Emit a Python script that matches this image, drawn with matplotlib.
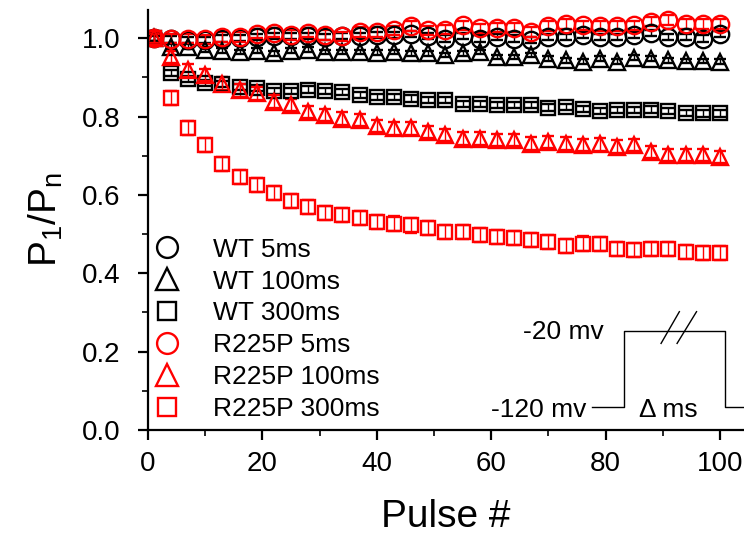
import numpy as np
import matplotlib
matplotlib.use('Agg')
import matplotlib.pyplot as plt
from matplotlib.lines import Line2D

plt.rcParams['font.family'] = ['Liberation Sans', 'DejaVu Sans']
plt.rcParams['mathtext.default'] = 'regular'

# pulse numbers (every 3rd pulse)
pulses = [1, 4, 7, 10, 13, 16, 19, 22, 25, 28, 31, 34, 37, 40, 43, 46, 49,
          52, 55, 58, 61, 64, 67, 70, 73, 76, 79, 82, 85, 88, 91, 94, 97, 100]

wt5 = [1.000, 0.997, 0.996, 0.996, 0.999, 1.001, 1.003, 1.006, 1.006, 1.006, 1.004, 1.006,
       1.006, 1.008, 1.008, 1.010, 1.006, 0.999, 1.005, 0.999, 1.003, 0.999, 0.995, 1.003,
       1.003, 1.008, 1.003, 1.003, 1.008, 1.013, 1.003, 1.003, 0.999, 1.011]
wt100 = [1.000, 0.978, 0.978, 0.971, 0.968, 0.965, 0.968, 0.961, 0.968, 0.971, 0.965, 0.965,
         0.965, 0.963, 0.965, 0.961, 0.961, 0.957, 0.961, 0.965, 0.952, 0.952, 0.957, 0.948,
         0.944, 0.940, 0.948, 0.940, 0.950, 0.948, 0.944, 0.942, 0.942, 0.940]
wt300 = [1.000, 0.912, 0.895, 0.886, 0.884, 0.876, 0.872, 0.866, 0.866, 0.869, 0.866, 0.863,
         0.855, 0.850, 0.850, 0.846, 0.842, 0.842, 0.833, 0.833, 0.829, 0.829, 0.829, 0.823,
         0.825, 0.820, 0.815, 0.816, 0.816, 0.818, 0.815, 0.810, 0.808, 0.808]
r5 = [1.000, 0.999, 0.999, 0.997, 1.003, 1.003, 1.012, 1.014, 1.008, 1.014, 1.008, 1.005,
      1.016, 1.016, 1.020, 1.031, 1.020, 1.022, 1.033, 1.025, 1.027, 1.027, 1.016, 1.031,
      1.036, 1.033, 1.031, 1.031, 1.033, 1.042, 1.046, 1.036, 1.036, 1.036]
r100 = [1.000, 0.952, 0.918, 0.906, 0.884, 0.867, 0.859, 0.838, 0.829, 0.812, 0.804, 0.795,
        0.791, 0.776, 0.770, 0.770, 0.761, 0.753, 0.744, 0.744, 0.740, 0.740, 0.731, 0.735,
        0.731, 0.727, 0.729, 0.723, 0.727, 0.710, 0.702, 0.702, 0.702, 0.697]
r300 = [1.000, 0.848, 0.770, 0.727, 0.680, 0.645, 0.625, 0.605, 0.585, 0.570, 0.555, 0.548,
        0.540, 0.532, 0.527, 0.522, 0.515, 0.506, 0.506, 0.497, 0.493, 0.489, 0.485, 0.480,
        0.469, 0.476, 0.474, 0.461, 0.459, 0.461, 0.461, 0.455, 0.452, 0.452]

# rough SEMs
err_wt5, err_wt100, err_wt300 = 0.008, 0.006, 0.008
err_r5, err_r100, err_r300 = 0.012, 0.016, 0.018

# label, data, err, colour, marker, plot size, legend size
series = [
    ("WT 5ms", wt5, err_wt5, 'black', 'o', 12.5, 15),
    ("WT 100ms", wt100, err_wt100, 'black', '^', 12, 16),
    ("WT 300ms", wt300, err_wt300, 'black', 's', 10.5, 12.5),
    ("R225P 5ms", r5, err_r5, 'red', 'o', 12.5, 15),
    ("R225P 100ms", r100, err_r100, 'red', '^', 12, 16),
    ("R225P 300ms", r300, err_r300, 'red', 's', 10.5, 12.5),
]

fig = plt.figure(figsize=(7.44, 5.39), dpi=100)
ax = fig.add_axes([148/744, 1 - 430/539, 596/744, 420/539])

handles = []
for label, vals, err, col, mk, ms, lms in series:
    ax.errorbar(pulses, vals, yerr=err, fmt=mk, ms=ms, mfc='none', mec=col, mew=1.7,
                ecolor=col, elinewidth=1.0, capsize=4.5, capthick=1.0)
    handles.append(Line2D([], [], ls='none', marker=mk, ms=lms, mfc='none', mec=col,
                          mew=1.7, label=label))

ax.set_xlim(0, 104.2)
ax.set_ylim(0, 1.072)
ax.set_xticks([0, 20, 40, 60, 80, 100])
ax.set_xticks(np.arange(10, 101, 20), minor=True)
ax.set_yticks([0.0, 0.2, 0.4, 0.6, 0.8, 1.0])
ax.set_yticklabels(['0.0', '0.2', '0.4', '0.6', '0.8', '1.0'])
ax.set_yticks(np.arange(0.1, 1.01, 0.2), minor=True)
for s in ['top', 'right']:
    ax.spines[s].set_visible(False)
for s in ['left', 'bottom']:
    ax.spines[s].set_linewidth(1.6)
ax.tick_params(which='major', direction='out', length=7, width=1.6, labelsize=20)
ax.tick_params(axis='x', which='major', pad=8)
ax.tick_params(axis='y', which='major', pad=13)
ax.tick_params(which='minor', direction='out', length=4, width=1.2)

ax.set_xlabel("Pulse #", fontsize=28, labelpad=16)
ax.set_ylabel("$P_1/P_n$", fontsize=28, labelpad=12)

ax.legend(handles=handles, loc='upper left', bbox_to_anchor=(0.0097, 0.458),
          frameon=False, fontsize=19, handlelength=1.0, handletextpad=1.24,
          labelspacing=0.3, borderpad=0.0, borderaxespad=0.0)

# stimulus protocol inset
kw = dict(color='black', lw=1.0, clip_on=False)
ax.plot([77.6, 83.2, 83.2, 100.9, 100.9, 104.2],
        [0.0594, 0.0594, 0.2533, 0.2533, 0.0594, 0.0594], **kw)
ax.plot([89.7, 92.9], [0.221, 0.302], **kw)
ax.plot([92.5, 95.9], [0.221, 0.302], **kw)
ax.text(79.6, 0.231, "-20 mv", fontsize=19, ha='right', va='baseline')
ax.text(76.7, 0.0324, "-120 mv", fontsize=19, ha='right', va='baseline')
ax.text(91.0, 0.0324, "Δ ms", fontsize=19, ha='center', va='baseline')

fig.savefig("out.png", dpi=100)
